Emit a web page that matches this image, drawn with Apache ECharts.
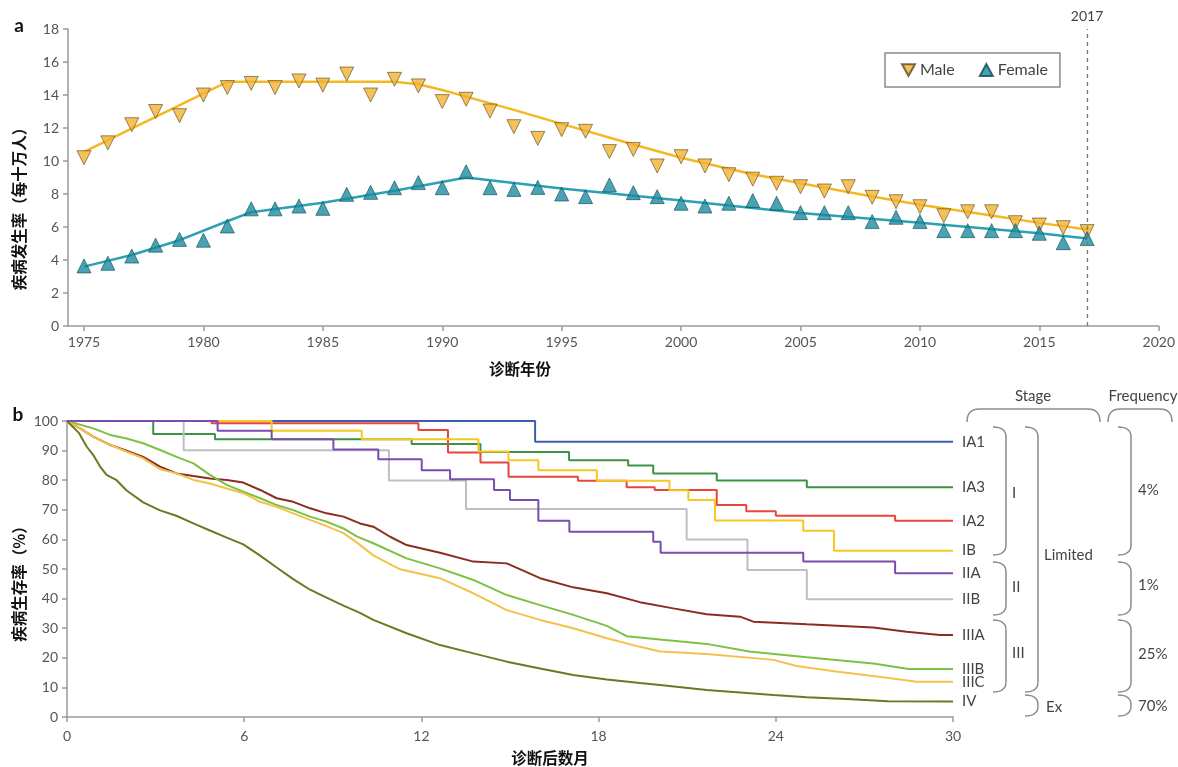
<!DOCTYPE html>
<html><head><meta charset="utf-8">
<script src="https://cdn.jsdelivr.net/npm/echarts@6/dist/echarts.min.js"></script>
<style>html,body{margin:0;padding:0;background:#fff}#c{width:1178px;height:767px}</style>
</head><body><div id="c"></div>
<script>
// ---------- panel a: incidence ----------
const years = [1975,1976,1977,1978,1979,1980,1981,1982,1983,1984,1985,1986,1987,1988,1989,1990,1991,1992,1993,1994,1995,1996,1997,1998,1999,2000,2001,2002,2003,2004,2005,2006,2007,2008,2009,2010,2011,2012,2013,2014,2015,2016,2017];
const maleRate = [10.2,11.1,12.2,13.0,12.75,14.0,14.45,14.7,14.45,14.85,14.6,15.27,14.0,14.95,14.55,13.6,13.74,13.03,12.08,11.37,11.9,11.8,10.57,10.7,9.7,10.26,9.7,9.17,8.9,8.65,8.44,8.18,8.44,7.8,7.53,7.23,6.68,6.92,6.92,6.26,6.12,5.96,5.72];
const femaleRate = [3.64,3.8,4.24,4.9,5.25,5.2,6.06,7.1,7.1,7.27,7.13,7.98,8.1,8.38,8.69,8.38,9.35,8.38,8.28,8.4,8.0,7.84,8.55,8.08,7.84,7.44,7.27,7.44,7.6,7.44,6.87,6.87,6.87,6.33,6.59,6.33,5.78,5.78,5.78,5.78,5.62,5.05,5.3];
const maleTrendYears = [1975,1981,1988,1989,1990,1991,1993,1995,1998,2000,2003,2005,2008,2010,2013,2015,2017];
const maleTrend = [10.55,14.8,14.8,14.65,14.3,13.9,13.1,12.25,11.0,10.2,9.2,8.65,7.85,7.35,6.7,6.25,5.85];
const femaleTrendYears = [1975,1977,1979,1981,1982,1985,1988,1991,1995,2000,2005,2010,2015,2017];
const femaleTrend = [3.6,4.3,5.2,6.35,6.9,7.47,8.2,9.0,8.34,7.6,6.85,6.26,5.62,5.3];
const yearTicks = [1975,1980,1985,1990,1995,2000,2005,2010,2015,2020];
const markYear = 2017;

// ---------- panel b: survival by stage [month, %] ----------
const stageNames = ['IA1','IA3','IA2','IB','IIA','IIB','IIIA','IIIB','IIIC','IV'];
const sIA1 = [[0,100],[15.85,93],[30,93]];
const sIA3 = [[0,100],[2.92,95.6],[5.01,93.8],[11.67,92.2],[14.0,89.5],[17.0,86.7],[19.0,85.0],[19.85,82.3],[22.0,79.9],[25.05,77.6],[30,77.6]];
const sIA2 = [[0,100],[4.9,99.2],[11.9,97.0],[12.9,89.4],[14.0,86.0],[14.95,81.2],[17.3,79.8],[18.95,77.6],[19.9,76.7],[22.0,71.6],[23.0,69.5],[24.0,68.0],[28.04,66.3],[30,66.3]];
const sIB = [[0,100],[6.93,96.7],[9.98,93.8],[13.93,89.7],[14.95,86.7],[15.96,83.4],[17.94,79.8],[20.4,76.6],[21.04,73.3],[21.94,66.4],[24.93,62.9],[25.97,56.2],[30,56.2]];
const sIIA = [[0,100],[5.1,96.7],[6.93,93.8],[9.02,90.4],[10.54,87.1],[12.01,83.4],[12.97,80.3],[14.46,76.7],[15.0,73.3],[15.96,66.3],[17.01,62.6],[19.85,59.2],[20.1,55.5],[24.93,52.5],[28.04,48.6],[30,48.6]];
const sIIB = [[0,100],[3.95,90.1],[10.9,79.9],[13.51,70.3],[20.98,60.0],[23.04,49.7],[25.05,39.8],[30,39.8]];
const sIIIA = [[0,100],[0.44,97.5],[0.89,94.7],[1.46,91.9],[2.02,90.0],[2.58,87.9],[3.15,84.6],[3.71,82.3],[4.28,81.4],[4.84,80.6],[5.41,80.1],[5.97,79.2],[6.54,76.7],[7.1,73.9],[7.66,72.7],[8.23,70.5],[8.79,68.8],[9.36,67.7],[9.92,65.4],[10.37,64.3],[10.94,60.9],[11.5,58.1],[12.63,55.5],[13.76,52.5],[14.89,51.9],[16.02,46.9],[17.14,43.8],[18.28,41.8],[19.4,38.8],[20.53,36.7],[21.66,34.7],[22.79,33.9],[23.24,32.2],[25.05,31.3],[27.3,30.2],[28.43,28.8],[29.56,27.7],[30,27.7]];
const sIIIB = [[0,100],[0.89,97.5],[1.46,95.3],[2.02,94.1],[2.58,92.5],[3.15,90.2],[3.71,87.9],[4.28,85.7],[4.84,81.8],[5.41,78.4],[5.97,76.1],[6.54,73.9],[7.1,71.6],[7.66,69.9],[8.23,67.7],[8.79,66.0],[9.36,63.7],[9.81,61.0],[10.37,58.7],[11.5,53.6],[12.63,50.2],[13.76,46.3],[14.89,41.2],[16.02,37.8],[17.14,34.5],[18.28,30.8],[18.95,27.3],[20.08,26.2],[21.66,24.7],[23.1,22.1],[25.05,20.2],[27.3,18.1],[28.5,16.2],[30,16.2]];
const sIIIC = [[0,100],[0.44,97.5],[0.89,94.7],[1.46,91.9],[2.02,89.6],[2.58,87.4],[3.15,83.7],[3.71,82.3],[4.28,80.1],[4.84,78.9],[5.41,77.2],[5.97,75.6],[6.54,72.7],[7.1,71.0],[7.66,68.8],[8.23,66.6],[8.79,64.5],[9.36,62.1],[9.81,59.0],[10.37,54.6],[11.28,49.9],[12.63,46.9],[13.76,41.8],[14.89,36.1],[16.02,32.8],[17.14,30.0],[18.28,26.6],[19.4,23.7],[20.08,22.1],[21.66,21.3],[23.92,19.3],[24.7,17.2],[26.1,15.3],[27.5,13.6],[28.77,11.9],[30,11.9]];
const sIV = [[0,100],[0.4,96],[0.67,91.3],[0.89,88.5],[1.12,84.6],[1.34,81.8],[1.68,80.0],[2.02,76.5],[2.58,72.5],[3.15,69.8],[3.7,68.0],[4.28,65.4],[4.84,63.0],[5.41,60.6],[5.97,58.3],[6.54,54.5],[7.1,50.5],[7.66,46.6],[8.23,43.0],[8.79,40.3],[9.36,37.6],[9.92,35.2],[10.37,32.8],[11.5,28.3],[12.63,24.3],[13.76,21.5],[14.89,18.7],[16.02,16.4],[17.14,14.2],[18.28,12.7],[19.4,11.5],[20.08,10.8],[21.66,9.1],[23.92,7.4],[25.05,6.7],[26.4,6.1],[27.8,5.3],[30,5.2]];
const monthTicks = [0,6,12,18,24,30];
const stageGroups = ['I','II','III'];
const freqLabels = ['4%','1%','25%','70%'];

// ---------- build ----------
const LAT = 'Lato, "Noto Sans", sans-serif';
const CJK = '"Noto Sans CJK SC", sans-serif';
const zip = (a, b) => a.map((v, i) => [v, b[i]]);
const axisGrey = '#9a9a9a';
const labelGrey = '#555';

const stageData = [sIA1, sIA3, sIA2, sIB, sIIA, sIIB, sIIIA, sIIIB, sIIIC, sIV];
const stageColors = ['#3E5CB2','#3A9444','#E8453C','#F8C620','#7A4DAE','#BFBFBF','#8A2D1F','#7CC143','#F4C24A','#6B7A22'];
const stepped = [true,true,true,true,true,true,false,false,false,false];
const stageZ = [3,3,3,4,5,3,2,2,2,2];

// quadratic bezier sampler for bracket shapes (decoration geometry)
function quad(p0, c, p1, n = 8) {
  const out = [];
  for (let i = 0; i <= n; i++) {
    const t = i / n, u = 1 - t;
    out.push([u*u*p0[0] + 2*u*t*c[0] + t*t*p1[0], u*u*p0[1] + 2*u*t*c[1] + t*t*p1[1]]);
  }
  return out;
}
function rBrace(x, y1, y2, w) {
  const r = Math.min(10, (y2 - y1) / 2);
  return [...quad([x, y1], [x + w, y1], [x + w, y1 + r]),
          ...quad([x + w, y2 - r], [x + w, y2], [x, y2])];
}
function tBrace(x1, x2, y, h) {
  return [...quad([x1, y + h], [x1, y], [x1 + 12, y]),
          ...quad([x2 - 12, y], [x2, y], [x2, y + h])];
}
const braceStyle = { stroke: '#8c8c8c', lineWidth: 1.5, fill: null };
const txt = (text, x, y, opt = {}) => ({
  type: 'text', x, y, rotation: opt.rot || 0, silent: true,
  style: { text, fill: opt.fill || '#444', font: opt.font || `15px ${LAT}`,
           textAlign: opt.align || 'left', textVerticalAlign: 'middle' }
});
const poly = pts => ({ type: 'polyline', silent: true, shape: { points: pts }, style: braceStyle });

const graphic = [
  txt('a', 19, 26, { font: `bold 19px ${LAT}`, fill: '#111', align: 'center' }),
  txt('b', 18, 415, { font: `bold 19px ${LAT}`, fill: '#111', align: 'center' }),
  txt('疾病发生率（每十万人）', 19, 205, { rot: Math.PI / 2, font: `bold 15.5px ${CJK}`, fill: '#111', align: 'center' }),
  txt('诊断年份', 520, 369, { font: `bold 15.5px ${CJK}`, fill: '#111', align: 'center' }),
  txt('疾病生存率（%）', 19, 580, { rot: Math.PI / 2, font: `bold 15.5px ${CJK}`, fill: '#111', align: 'center' }),
  txt('诊断后数月', 550, 758, { font: `bold 15.5px ${CJK}`, fill: '#111', align: 'center' }),
  txt('Stage', 1033, 396, { align: 'center' }),
  txt('Frequency', 1143, 396, { align: 'center' }),
  poly(tBrace(967, 1100, 409, 13)),
  poly(tBrace(1108, 1172, 409, 13)),
  poly(rBrace(993, 427, 555, 13)),
  poly(rBrace(993, 562, 615, 13)),
  poly(rBrace(993, 620, 692, 13)),
  poly(rBrace(1025, 427, 692, 13)),
  poly(rBrace(1025, 695, 716, 13)),
  poly(rBrace(1118, 427, 555, 13)),
  poly(rBrace(1118, 562, 615, 13)),
  poly(rBrace(1118, 620, 692, 13)),
  poly(rBrace(1118, 695, 716, 13)),
  txt(stageGroups[0], 1012, 493),
  txt(stageGroups[1], 1012, 587),
  txt(stageGroups[2], 1012, 653),
  txt('Limited', 1044, 555),
  txt('Ex', 1046, 707),
  txt(freqLabels[0], 1138, 490),
  txt(freqLabels[1], 1138, 585),
  txt(freqLabels[2], 1138, 654),
  txt(freqLabels[3], 1138, 706)
];

const survivalSeries = stageNames.map((name, i) => ({
  name, type: 'line', xAxisIndex: 1, yAxisIndex: 1,
  data: stageData[i], step: stepped[i] ? 'end' : false,
  showSymbol: false, symbol: 'none', silent: true, animation: false,
  lineStyle: { color: stageColors[i], width: 2 },
  z: stageZ[i],
  endLabel: { show: true, formatter: '{a}', color: '#444', fontSize: 15, fontFamily: LAT, distance: 9 }
}));

const plain = v => String(v);

const option = {
  animation: false,
  backgroundColor: '#fff',
  graphic,
  legend: {
    left: 885, top: 53, orient: 'horizontal',
    borderColor: '#8a8a8a', borderWidth: 1.5, padding: [9, 12, 9, 16],
    itemGap: 24, itemWidth: 13, itemHeight: 12,
    textStyle: { fontSize: 16, color: '#444', fontFamily: LAT },
    data: [{ name: 'Male', icon: 'path://M0,0L10,0L5,9Z' }, { name: 'Female', icon: 'triangle' }]
  },
  grid: [
    { left: 68, right: 19, top: 29, bottom: 441 },
    { left: 67, right: 225, top: 421, bottom: 50 }
  ],
  xAxis: [
    { type: 'value', gridIndex: 0, min: 1974.33, max: 2020,
      axisLine: { lineStyle: { color: axisGrey, width: 1.5 } },
      axisTick: { customValues: yearTicks, length: 5, lineStyle: { color: axisGrey, width: 1.5 } },
      axisLabel: { customValues: yearTicks, formatter: plain, color: labelGrey, fontSize: 14, margin: 9, fontFamily: LAT },
      splitLine: { show: false } },
    { type: 'value', gridIndex: 1, min: 0, max: 30, interval: 6,
      axisLine: { lineStyle: { color: axisGrey, width: 1.5 } },
      axisTick: { length: 5, lineStyle: { color: axisGrey, width: 1.5 } },
      axisLabel: { formatter: plain, color: labelGrey, fontSize: 14, margin: 12, fontFamily: LAT },
      splitLine: { show: false } }
  ],
  yAxis: [
    { type: 'value', gridIndex: 0, min: 0, max: 18, interval: 2,
      axisLine: { show: true, lineStyle: { color: axisGrey, width: 1.5 } },
      axisTick: { show: true, length: 5, lineStyle: { color: axisGrey, width: 1.5 } },
      axisLabel: { formatter: plain, color: labelGrey, fontSize: 14, margin: 9, fontFamily: LAT },
      splitLine: { show: false } },
    { type: 'value', gridIndex: 1, min: 0, max: 100, interval: 10,
      axisLine: { show: true, lineStyle: { color: axisGrey, width: 1.5 } },
      axisTick: { show: true, length: 5, lineStyle: { color: axisGrey, width: 1.5 } },
      axisLabel: { formatter: plain, color: labelGrey, fontSize: 14, margin: 9, fontFamily: LAT },
      splitLine: { show: false } }
  ],
  series: [
    { name: 'MaleTrend', type: 'line', xAxisIndex: 0, yAxisIndex: 0, data: zip(maleTrendYears, maleTrend),
      showSymbol: false, symbol: 'none', silent: true, lineStyle: { color: '#F5B822', width: 2.5 }, z: 2,
      markLine: { symbol: 'none', silent: true, lineStyle: { type: [4, 4], color: '#777', width: 1.3 },
        label: { show: true, position: 'end', formatter: String(markYear), color: '#444', fontSize: 14, fontFamily: LAT, distance: 6 },
        data: [{ xAxis: markYear }] } },
    { name: 'FemaleTrend', type: 'line', xAxisIndex: 0, yAxisIndex: 0, data: zip(femaleTrendYears, femaleTrend),
      showSymbol: false, symbol: 'none', silent: true, lineStyle: { color: '#2AA2B4', width: 2.5 }, z: 2 },
    { name: 'Male', type: 'scatter', xAxisIndex: 0, yAxisIndex: 0, data: zip(years, maleRate),
      symbol: 'triangle', symbolRotate: 180, symbolSize: 14, z: 4,
      itemStyle: { color: '#F2B230', borderColor: '#5b4a22', borderWidth: 0.8 } },
    { name: 'Female', type: 'scatter', xAxisIndex: 0, yAxisIndex: 0, data: zip(years, femaleRate),
      symbol: 'triangle', symbolSize: 14, z: 4,
      itemStyle: { color: '#1B8C9F', borderColor: '#0f4b55', borderWidth: 0.8 } },
    ...survivalSeries
  ]
};
const chart = echarts.init(document.getElementById('c'), null, { renderer: 'canvas' });
chart.setOption(option);
</script></body></html>
